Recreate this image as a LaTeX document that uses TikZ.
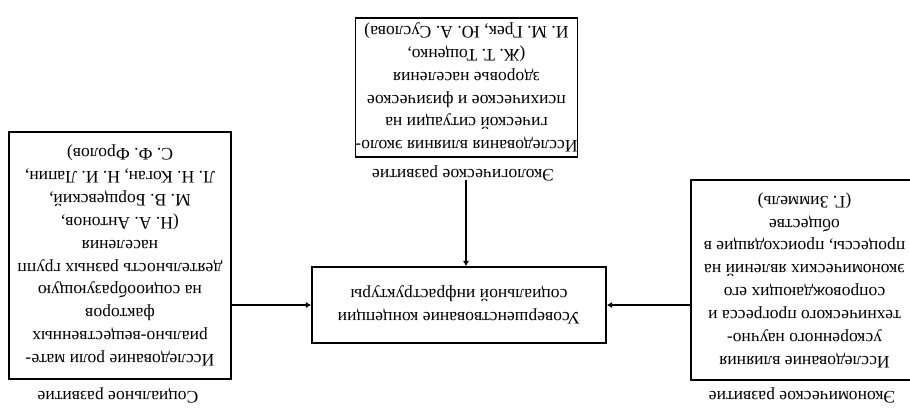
\documentclass[tikz,border=0pt]{standalone}
\usepackage{fontspec}
\setmainfont{Liberation Serif}
\usetikzlibrary{arrows.meta}
\tikzset{
	research/.style={draw, line width=0.9pt, rotate=180, align=center, inner sep=0pt,
		font=\fontsize{10}{13}\selectfont},
	caption/.style={rotate=180, font=\fontsize{10}{12}\selectfont},
	link/.style={line width=0.6pt, -{Latex[length=3pt,width=3.5pt]}}
}
\begin{document}
\begin{tikzpicture}[x=0.02cm, y=-0.02cm]
	\useasboundingbox (0,0) rectangle (910,407);
	%\draw[lightgray] (0,0) grid[step=50] (910,407);
	% the whole scheme is printed upside down
	\node[research, minimum width=4.44cm, minimum height=4.94cm] (social) at (120,255.5)
		{Исследование роли мате-\\риально-вещественных\\факторов\\на социообразующую\\деятельность разных групп\\населения\\(Н. А. Антонов,\\М. В. Борщевский,\\Л. Н. Коган, Н. И. Лапин,\\С. Ф. Фролов)};
	\node[caption] (socialcap) at (118,395) {Социальное развитие};
	\node[research, minimum width=4.54cm, minimum height=4cm] (econ) at (804.5,280)
		{Исследование влияния\\ускоренного научно-\\технического прогресса и\\сопровождающих его\\экономических явлений на\\процессы, происходящие в\\обществе\\(Г. Зиммель)};
	\node[caption] (econcap) at (802,395) {Экономическое развитие};
	\node[research, minimum width=4.42cm, minimum height=2.78cm] (eco) at (466.5,87.5)
		{Исследования влияния эколо-\\гической ситуации на\\психическое и физическое\\здоровье населения\\(Ж. Т. Тощенко,\\И. М. Грек, Ю. А. Суслова)};
	\node[caption] (ecocap) at (463,173) {Экологическое развитие};
	\node[research, minimum width=5.88cm, minimum height=1.52cm] (infra) at (459,305)
		{Усовершенствование концепции\\социальной инфраструктуры};
	\coordinate (ecotail) at (466,180);
	% rotated nodes: west is on the right, south is on top
	\draw[link] (social.west |- infra.center) -- (infra.east);
	\draw[link] (econ.east |- infra.center) -- (infra.west);
	\draw[link] (ecotail) -- (ecotail |- infra.south);
\end{tikzpicture}
\end{document}
